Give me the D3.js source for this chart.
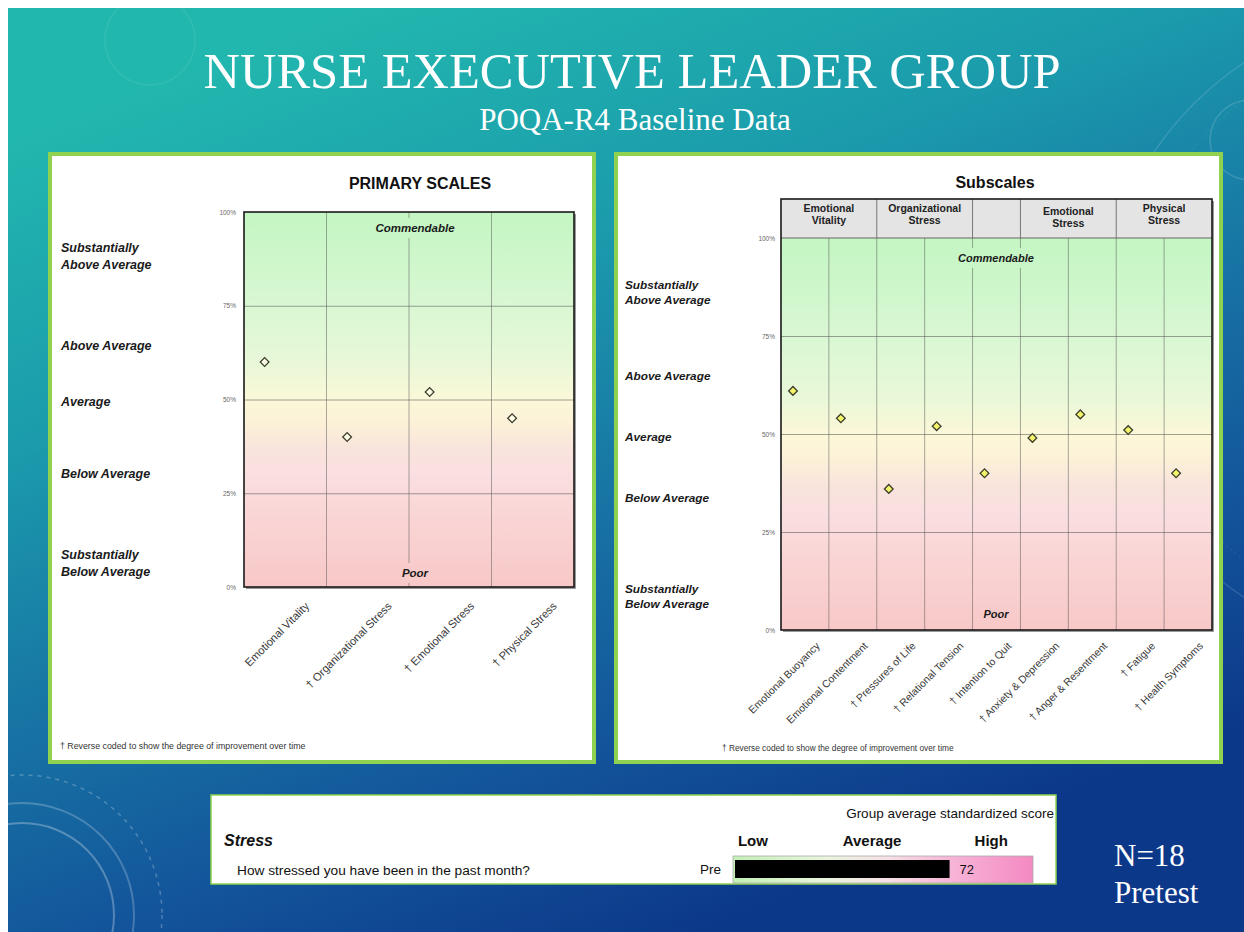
<!DOCTYPE html>
<html><head><meta charset="utf-8">
<script src="https://cdn.jsdelivr.net/npm/d3@7"></script>
<style>html,body{margin:0;padding:0;background:#fff;} svg{display:block}</style>
</head><body>
<svg id="c" width="1244" height="932"></svg>
<script>
// ---------------- DATA ----------------
const slideTitle = "NURSE EXECUTIVE LEADER GROUP";
const slideSubtitle = "POQA-R4 Baseline Data";
const primaryTitle = "PRIMARY SCALES";
const primaryCats = ["Emotional Vitality", "† Organizational Stress", "† Emotional Stress", "† Physical Stress"];
const primaryValues = [60, 40, 52, 45];
const subTitle = "Subscales";
const subCats = ["Emotional Buoyancy", "Emotional Contentment", "† Pressures of Life", "† Relational Tension",
  "† Intention to Quit", "† Anxiety & Depression", "† Anger & Resentment", "† Fatigue", "† Health Symptoms"];
const subValues = [61, 54, 36, 52, 40, 49, 55, 51, 40];
const subGroupNames = [["Emotional", "Vitality"], ["Organizational", "Stress"], [], ["Emotional", "Stress"], ["Physical", "Stress"]];
const subGroupSpans = [2, 2, 1, 2, 2];
const yTicks = [0, 25, 50, 75, 100];
const levelNames = [["Substantially", "Above Average"], ["Above Average"], ["Average"], ["Below Average"], ["Substantially", "Below Average"]];
const topZone = "Commendable", bottomZone = "Poor";
const footnote = "† Reverse coded to show the degree of improvement over time";
const stressHeading = "Stress";
const stressQuestion = "How stressed you have been in the past month?";
const stressScaleLabels = ["Low", "Average", "High"];
const stressScaleAt = [6, 46, 86];
const stressCaption = "Group average standardized score";
const stressRow = "Pre";
const stressValue = 72;
const sampleNote = ["N=18", "Pretest"];

// ---------------- SETUP ----------------
const svg = d3.select("#c");
const defs = svg.append("defs");
const SANS = "'Liberation Sans', Arial, sans-serif";
const SERIF = "'Liberation Serif', 'Times New Roman', serif";

const bg = defs.append("linearGradient").attr("id", "bgGrad").attr("gradientUnits", "userSpaceOnUse")
  .attr("x1", 350).attr("y1", 8).attr("x2", 700).attr("y2", 932);
[[0, "#22b7ae"], [0.3, "#1b9bac"], [0.53, "#1878a5"], [0.78, "#13559b"], [1, "#0c388a"]]
  .forEach(([o, c]) => bg.append("stop").attr("offset", o).attr("stop-color", c));

svg.append("rect").attr("width", 1244).attr("height", 932).attr("fill", "#fff");
svg.append("rect").attr("x", 8).attr("y", 8).attr("width", 1236).attr("height", 924).attr("fill", "url(#bgGrad)");

// decorative rings
const deco = svg.append("g").attr("fill", "none").attr("stroke", "#fff");
deco.append("circle").attr("cx", 22).attr("cy", 915).attr("r", 92).attr("stroke-opacity", 0.28).attr("stroke-width", 2);
deco.append("circle").attr("cx", 22).attr("cy", 915).attr("r", 112).attr("stroke-opacity", 0.22).attr("stroke-width", 2);
deco.append("circle").attr("cx", 22).attr("cy", 915).attr("r", 140).attr("stroke-opacity", 0.25).attr("stroke-width", 1.5).attr("stroke-dasharray", "4 5");
deco.append("circle").attr("cx", 1420).attr("cy", 330).attr("r", 320).attr("stroke-opacity", 0.14).attr("stroke-width", 1.2);
deco.append("circle").attr("cx", 1420).attr("cy", 330).attr("r", 290).attr("stroke-opacity", 0.1).attr("stroke-width", 1).attr("stroke-dasharray", "2 3");
deco.append("circle").attr("cx", 1250).attr("cy", 140).attr("r", 40).attr("stroke-opacity", 0.15).attr("stroke-width", 1.5);
deco.append("circle").attr("cx", 150).attr("cy", 40).attr("r", 45).attr("stroke-opacity", 0.07).attr("stroke-width", 1.5);

// titles
svg.append("text").attr("x", 632).attr("y", 88).attr("text-anchor", "middle").attr("font-family", SERIF)
  .attr("font-size", 50.5).attr("fill", "#fff").text(slideTitle);
svg.append("text").attr("x", 635).attr("y", 130).attr("text-anchor", "middle").attr("font-family", SERIF)
  .attr("font-size", 31).attr("fill", "#fff").text(slideSubtitle);

// panels
svg.append("rect").attr("x", 50).attr("y", 154).attr("width", 544).attr("height", 608).attr("fill", "#fff")
  .attr("stroke", "#8fd24f").attr("stroke-width", 4);
svg.append("rect").attr("x", 616).attr("y", 154).attr("width", 605).attr("height", 608).attr("fill", "#fff")
  .attr("stroke", "#8fd24f").attr("stroke-width", 4);

function makePlotGrad(id, top, bottom) {
  const g = defs.append("linearGradient").attr("id", id).attr("gradientUnits", "userSpaceOnUse")
    .attr("x1", 0).attr("y1", top).attr("x2", 0).attr("y2", bottom);
  [[0, "#c4f6c3"], [0.22, "#d6f7d1"], [0.4, "#e8f8d8"], [0.5, "#fbf8d8"], [0.56, "#fcf2d8"], [0.63, "#f9e4dc"],
   [0.7, "#fadfe0"], [0.8, "#fad6d6"], [1, "#f8c8c8"]]
    .forEach(([o, c]) => g.append("stop").attr("offset", o).attr("stop-color", c));
}

function drawChart(o) {
  const g = svg.append("g");
  const x = d3.scaleBand().domain(o.cats).range([o.left, o.right]).paddingInner(0).paddingOuter(0);
  const y = d3.scaleLinear().domain([0, 100]).range([o.bottom, o.top]);
  const w = o.right - o.left, bw = x.bandwidth();
  makePlotGrad(o.id, o.top, o.bottom);

  // shadow + background
  g.append("rect").attr("x", o.left + 2).attr("y", (o.headTop || o.top) + 2).attr("width", w).attr("height", o.bottom - (o.headTop || o.top))
    .attr("fill", "#9a9a9a");
  g.append("rect").attr("x", o.left).attr("y", o.top).attr("width", w).attr("height", o.bottom - o.top).attr("fill", `url(#${o.id})`);

  // horizontal gridlines
  g.append("g").attr("transform", `translate(${o.left},0)`)
    .call(d3.axisLeft(y).tickValues([25, 50, 75]).tickSize(-w).tickFormat(""))
    .call(s => s.select(".domain").remove())
    .selectAll("line").attr("stroke", "#555").attr("stroke-opacity", 0.55);
  // vertical gridlines at band boundaries
  g.append("g").selectAll("line").data(o.cats.slice(1)).join("line")
    .attr("x1", d => x(d)).attr("x2", d => x(d)).attr("y1", o.top).attr("y2", o.bottom)
    .attr("stroke", "#555").attr("stroke-opacity", 0.5);

  // zone labels with gradient backing
  [[topZone, o.zoneTopY], [bottomZone, o.zoneBotY]].forEach(([t, yy]) => {
    const tx = g.append("text").attr("x", o.zoneX).attr("y", yy).attr("text-anchor", "middle")
      .attr("font-family", SANS).attr("font-size", o.zoneSize).attr("font-weight", "bold").attr("font-style", "italic")
      .attr("fill", "#1a1a1a").text(t);
    const b = tx.node().getBBox();
    g.insert("rect", () => tx.node()).attr("x", b.x - 3).attr("y", b.y - 4).attr("width", b.width + 6).attr("height", b.height + 8)
      .attr("fill", `url(#${o.id})`);
  });

  // header (subscales)
  if (o.groups) {
    const hg = g.append("g");
    hg.append("rect").attr("x", o.left).attr("y", o.headTop).attr("width", w).attr("height", o.top - o.headTop).attr("fill", "#e4e4e4");
    let idx = 0;
    const bounds = [];
    o.groups.forEach((nm, i) => {
      const start = x(o.cats[idx]);
      idx += o.spans[i];
      const end = idx < o.cats.length ? x(o.cats[idx]) : o.right;
      if (idx < o.cats.length) bounds.push(end);
      const t = hg.append("text").attr("text-anchor", "middle").attr("font-family", SANS).attr("font-size", 10.5)
        .attr("font-weight", "bold").attr("fill", "#222");
      const off = (nm[0] === "Emotional" && nm[1] === "Stress") ? 3 : 0;
      nm.forEach((ln, k) => t.append("tspan").attr("x", (start + end) / 2).attr("y", o.headTop + 13 + off + k * 12).text(ln));
    });
    hg.selectAll("line.div").data(bounds).join("line").attr("x1", d => d).attr("x2", d => d)
      .attr("y1", o.headTop).attr("y2", o.top).attr("stroke", "#777").attr("stroke-width", 1);
    hg.append("line").attr("x1", o.left).attr("x2", o.right).attr("y1", o.top).attr("y2", o.top).attr("stroke", "#666");
  }

  // border
  g.append("rect").attr("x", o.left).attr("y", o.headTop || o.top).attr("width", w).attr("height", o.bottom - (o.headTop || o.top))
    .attr("fill", "none").attr("stroke", "#1a1a1a").attr("stroke-width", 1.6);

  // y tick labels
  g.append("g").attr("transform", `translate(${o.left},0)`)
    .call(d3.axisLeft(y).tickValues(yTicks).tickFormat(d => d + "%").tickSize(0).tickPadding(o.tickPad))
    .call(s => s.select(".domain").remove())
    .selectAll("text").attr("font-family", SANS).attr("font-size", 6.5).attr("fill", "#666");

  // x labels
  g.append("g").attr("transform", `translate(0,${o.bottom})`)
    .call(d3.axisBottom(x).tickSize(0))
    .call(s => s.select(".domain").remove())
    .selectAll("text").attr("x", 0).attr("y", 0).attr("dy", "0.35em")
    .attr("transform", `translate(${o.lblDx},${o.lblDy}) rotate(-45)`).attr("text-anchor", "end")
    .attr("font-family", SANS).attr("font-size", o.lblSize).attr("fill", "#3a3a3a");

  // markers (first quarter of each category slot)
  g.append("g").selectAll("path").data(o.values).join("path")
    .attr("d", d3.symbol().type(d3.symbolSquare).size(o.mSize))
    .attr("transform", (d, i) => `translate(${x(o.cats[i]) + bw / 4},${y(d)}) rotate(45)`)
    .attr("fill", o.mFill).attr("stroke", "#3d3d2d").attr("stroke-width", 1.3);

  // title
  svg.append("text").attr("x", o.titleX).attr("y", o.titleY).attr("text-anchor", "middle").attr("font-family", SANS)
    .attr("font-size", 16).attr("font-weight", "bold").attr("fill", "#111").text(o.title);

  // level labels
  const lg = svg.append("g").attr("font-family", SANS).attr("font-size", o.levSize).attr("font-weight", "bold")
    .attr("font-style", "italic").attr("fill", "#1a1a1a");
  levelNames.forEach((lines, i) => {
    lines.forEach((ln, k) => lg.append("text").attr("x", o.levX).attr("y", o.levY[i] + k * o.levLead).text(ln));
  });

  // footnote
  svg.append("text").attr("x", o.footX).attr("y", o.footY).attr("font-family", SANS).attr("font-size", o.footSize)
    .attr("fill", "#333").text(footnote);
}

drawChart({
  id: "pg1", cats: primaryCats, values: primaryValues, left: 244, right: 574, top: 212, bottom: 587,
  zoneX: 415, zoneTopY: 232, zoneBotY: 577, zoneSize: 11.5, tickPad: 8,
  lblDx: 22, lblDy: 17, lblSize: 11.2, mSize: 38, mFill: "#fdfde8",
  title: primaryTitle, titleX: 420, titleY: 189,
  levX: 61, levY: [252, 350, 406, 478, 559], levLead: 17, levSize: 12.5,
  footX: 60, footY: 749, footSize: 8.8
});
drawChart({
  id: "pg2", cats: subCats, values: subValues, left: 781, right: 1212, top: 238, bottom: 630, headTop: 199,
  groups: subGroupNames, spans: subGroupSpans,
  zoneX: 996, zoneTopY: 262, zoneBotY: 618, zoneSize: 11, tickPad: 6,
  lblDx: 13, lblDy: 14, lblSize: 10.5, mSize: 38, mFill: "#f4f46a",
  title: subTitle, titleX: 995, titleY: 188,
  levX: 625, levY: [289, 380, 441, 502, 593], levLead: 15, levSize: 11.8,
  footX: 722, footY: 751, footSize: 8.3
});

// ---------------- STRESS BOX ----------------
svg.append("rect").attr("x", 211).attr("y", 795).attr("width", 845).attr("height", 89).attr("fill", "#fff")
  .attr("stroke", "#8fd24f").attr("stroke-width", 1.5);
const sx = d3.scaleLinear().domain([0, 100]).range([735, 1033]);
const sg = defs.append("linearGradient").attr("id", "sGrad").attr("gradientUnits", "userSpaceOnUse")
  .attr("x1", sx(0)).attr("x2", sx(100)).attr("y1", 0).attr("y2", 0);
[[0, "#c3f0b6"], [0.3, "#e8f5dc"], [0.5, "#f6e2e6"], [0.7, "#f7b9d9"], [1, "#f489c2"]]
  .forEach(([o, c]) => sg.append("stop").attr("offset", o).attr("stop-color", c));
svg.append("rect").attr("x", sx(0) - 2).attr("y", 856).attr("width", sx(100) - sx(0) + 2).attr("height", 27)
  .attr("fill", "url(#sGrad)").attr("stroke", "#aaa").attr("stroke-width", 0.8);
svg.append("rect").attr("x", sx(0)).attr("y", 860).attr("width", sx(stressValue) - sx(0)).attr("height", 18).attr("fill", "#000");
svg.append("text").attr("x", sx(stressValue) + 10).attr("y", 874).attr("font-family", SANS).attr("font-size", 13).attr("fill", "#111").text(stressValue);
svg.append("text").attr("x", 1054).attr("y", 818).attr("text-anchor", "end").attr("font-family", SANS).attr("font-size", 13.5).attr("fill", "#111").text(stressCaption);
svg.append("text").attr("x", 224).attr("y", 846).attr("font-family", SANS).attr("font-size", 16).attr("font-weight", "bold").attr("font-style", "italic").attr("fill", "#111").text(stressHeading);
svg.append("g").selectAll("text").data(stressScaleLabels).join("text")
  .attr("x", (d, i) => sx(stressScaleAt[i])).attr("y", 846).attr("text-anchor", "middle").attr("font-family", SANS)
  .attr("font-size", 15).attr("font-weight", "bold").attr("fill", "#111").text(d => d);
svg.append("text").attr("x", 237).attr("y", 875).attr("font-family", SANS).attr("font-size", 13.7).attr("fill", "#111").text(stressQuestion);
svg.append("text").attr("x", 721).attr("y", 874).attr("text-anchor", "end").attr("font-family", SANS).attr("font-size", 13.5).attr("fill", "#111").text(stressRow);

// N note
svg.append("g").selectAll("text").data(sampleNote).join("text")
  .attr("x", 1114).attr("y", (d, i) => 866 + i * 37).attr("font-family", SERIF).attr("font-size", 31).attr("fill", "#fff").text(d => d);
</script></body></html>
